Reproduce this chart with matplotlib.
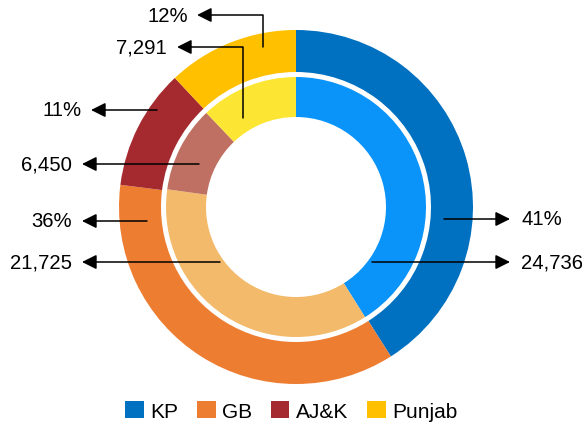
import numpy as np
import matplotlib.pyplot as plt

plt.rcParams['font.family'] = ['Liberation Sans', 'DejaVu Sans']

regions = ['KP', 'GB', 'AJ&K', 'Punjab']
share_pct = [41, 36, 11, 12]
counts = [24736, 21725, 6450, 7291]

outer_colors = ['#0070C0', '#ED7D31', '#A52A30', '#FFC000']
inner_colors = ['#0A94FA', '#F2BA6A', '#BF7062', '#FDE633']

W, H = 582, 427


def px(x, y):
    # pixel coords (top-left origin) -> data coords
    return (x, H - y)


fig = plt.figure(figsize=(W / 100, H / 100), dpi=100)
ax = fig.add_axes([0, 0, 1, 1])
ax.set_xlim(0, W)
ax.set_ylim(0, H)
ax.set_aspect('equal')
ax.axis('off')

center = px(296, 208)
outer_w, _ = ax.pie(share_pct, colors=outer_colors, radius=177, center=center,
                    startangle=90, counterclock=False,
                    wedgeprops=dict(width=42, linewidth=0))
ax.pie(counts, colors=inner_colors, radius=130, center=center,
       startangle=90, counterclock=False,
       wedgeprops=dict(width=40, linewidth=0))
ax.set_xlim(0, W)
ax.set_ylim(0, H)

arrow_kw = dict(arrowstyle='-|>', color='black', lw=1.1, mutation_scale=22,
                shrinkA=0, shrinkB=0)

# (label, start, tip, text x, alignment, elbow)
notes = [
    (f'{share_pct[0]}%', (444, 220), (510, 220), 521, 'left', False),
    (f'{counts[0]:,}', (372, 263), (510, 263), 521, 'left', False),
    (f'{share_pct[1]}%', (147, 222), (82, 222), 72, 'right', False),
    (f'{counts[1]:,}', (220, 263), (82, 263), 72, 'right', False),
    (f'{share_pct[2]}%', (157, 111), (91, 111), 82, 'right', False),
    (f'{counts[2]:,}', (199, 165), (82, 165), 72, 'right', False),
    (f'{counts[3]:,}', (243, 119), (177, 48), 167, 'right', True),
    (f'{share_pct[3]}%', (263, 48), (197, 16), 188, 'right', True),
]

for label, start, tip, tx, ha, elbow in notes:
    kw = dict(arrow_kw)
    if elbow:
        kw['connectionstyle'] = 'angle,angleA=90,angleB=0,rad=0'
    ax.annotate('', xy=px(*tip), xytext=px(*start), arrowprops=kw)
    ax.text(*px(tx, tip[1]), label, ha=ha, va='center', fontsize=14.6)

fig.legend(outer_w, regions, loc='center', bbox_to_anchor=(0.5, 1 - 412 / H),
           ncol=4, frameon=False, fontsize=15, handlelength=0.9,
           handleheight=0.9, handletextpad=0.3, columnspacing=0.9)

plt.savefig('out.png', dpi=100)
plt.close()
